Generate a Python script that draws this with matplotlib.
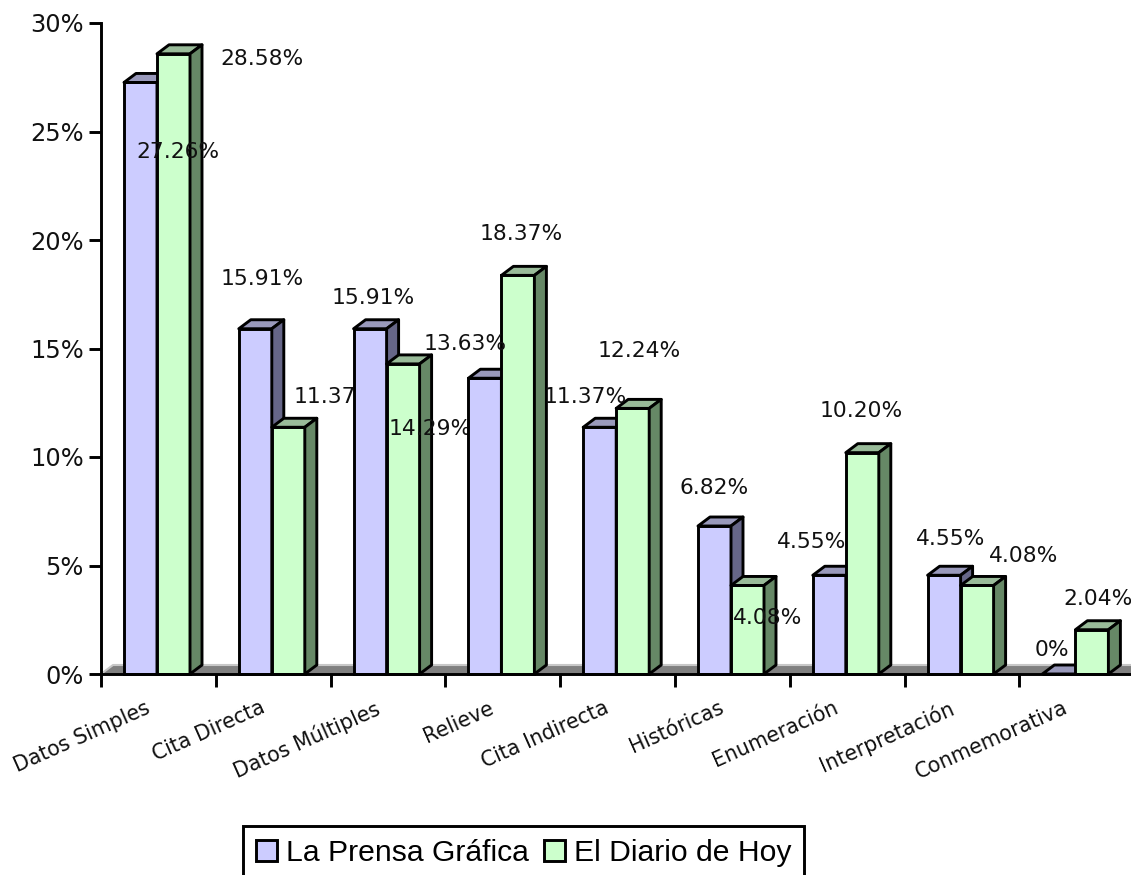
import matplotlib
matplotlib.use('Agg')
import matplotlib.pyplot as plt
from matplotlib.patches import Patch

categories = ['Datos Simples', 'Cita Directa', 'Datos Múltiples', 'Relieve', 'Cita Indirecta',
              'Históricas', 'Enumeración', 'Interpretación', 'Conmemorativa']
prensa = [27.26, 15.91, 15.91, 13.63, 11.37, 6.82, 4.55, 4.55, 0]
diario = [28.58, 11.37, 14.29, 18.37, 12.24, 4.08, 10.20, 4.08, 2.04]
prensa_text = ['27.26%', '15.91%', '15.91%', '13.63%', '11.37%', '6.82%', '4.55%', '4.55%', '0%']
diario_text = ['28.58%', '11.37%', '14.29%', '18.37%', '12.24%', '4.08%', '10.20%', '4.08%', '2.04%']

# label offsets from the top of each bar, in pixels (the original puts them in odd places)
prensa_off = [(37, -70), (7, 50), (3, 31), (-20, 34), (-15, 30), (0, 38), (-18, 33), (7, 36), (-7, 24)]
diario_off = [(88, -5), (47, 30), (27, -65), (3, 41), (6, 57), (20, -33), (-1, 42), (47, 29), (6, 31)]

GROUP_PX = 114.8
UNIT_PX = 21.7
BAR_W = 33 / GROUP_PX
BAR_START = 23 / GROUP_PX
DX = 12 / GROUP_PX
DY = 9 / UNIT_PX
LW = 2.1

fig = plt.figure(figsize=(11.31, 8.75), dpi=100)
ax = fig.add_axes([101 / 1131, 1 - 674 / 875, 1030 / 1131, 651 / 875])
ax.set_xlim(0, 1030 / GROUP_PX)
ax.set_ylim(0, 30)

# floor of the 3d box
xmax = ax.get_xlim()[1]
ax.fill([0, DX, xmax, xmax], [0, DY, DY, 0], color='#808080', lw=0, zorder=1)
ax.plot([0, DX, xmax], [0, DY, DY], color='#c8c8c8', lw=1.5, zorder=1)


def draw_bar(x, val, front, top, side, z):
    ax.bar(x, val, BAR_W, align='edge', color=front, edgecolor='black', lw=LW, zorder=z, clip_on=False)
    ax.fill([x, x + DX, x + BAR_W + DX, x + BAR_W], [val, val + DY, val + DY, val],
            facecolor=top, edgecolor='black', lw=LW, zorder=z, joinstyle='round')
    ax.fill([x + BAR_W, x + BAR_W + DX, x + BAR_W + DX, x + BAR_W], [0, DY, val + DY, val],
            facecolor=side, edgecolor='black', lw=LW, zorder=z, joinstyle='round')


for i in range(len(categories)):
    z = 2 + i
    x1 = i + BAR_START
    x2 = x1 + BAR_W
    draw_bar(x1, prensa[i], '#ccccff', '#9999bb', '#666688', z)
    draw_bar(x2, diario[i], '#ccffcc', '#99bb99', '#668866', z + 0.1)
    ax.annotate(prensa_text[i], (x1 + BAR_W / 2, prensa[i]), xytext=prensa_off[i], textcoords='offset pixels',
                ha='center', va='center', fontsize=15.7, color='#111111', zorder=z + 0.2, annotation_clip=False)
    ax.annotate(diario_text[i], (x2 + BAR_W / 2, diario[i]), xytext=diario_off[i], textcoords='offset pixels',
                ha='center', va='center', fontsize=15.7, color='#111111', zorder=z + 0.2, annotation_clip=False)

for s in ['top', 'right']:
    ax.spines[s].set_visible(False)
for s in ['left', 'bottom']:
    ax.spines[s].set_linewidth(LW)
    ax.spines[s].set_zorder(20)

ax.set_yticks(range(0, 31, 5))
ax.set_yticklabels([f'{v}%' for v in range(0, 31, 5)], fontsize=17.4, color='#111111')
ax.tick_params(axis='y', length=9, width=LW, pad=3.5)
ax.set_xticks(range(0, 9))
ax.set_xticklabels([])
ax.tick_params(axis='x', length=9, width=LW)

ax.set_xticks([i + 0.38 for i in range(9)], minor=True)
ax.set_xticklabels(categories, minor=True, rotation=24, ha='right', va='top', rotation_mode='anchor',
                   fontsize=14.8, color='#111111')
ax.tick_params(axis='x', which='minor', length=0, pad=17)

handles = [Patch(facecolor='#ccccff', edgecolor='black', lw=LW, label='La Prensa Gráfica'),
           Patch(facecolor='#ccffcc', edgecolor='black', lw=LW, label='El Diario de Hoy')]
leg = fig.legend(handles=handles, loc='upper left', bbox_to_anchor=(243 / 1131, 1 - 826 / 875), ncol=2,
                 prop={'family': 'Liberation Sans', 'size': 21.7}, frameon=True, fancybox=False,
                 edgecolor='black', framealpha=1, borderpad=0.42, borderaxespad=0,
                 handlelength=0.7, handleheight=0.7, handletextpad=0.3, columnspacing=0.5)
leg.get_frame().set_linewidth(LW)

fig.savefig('out.png', dpi=100)
